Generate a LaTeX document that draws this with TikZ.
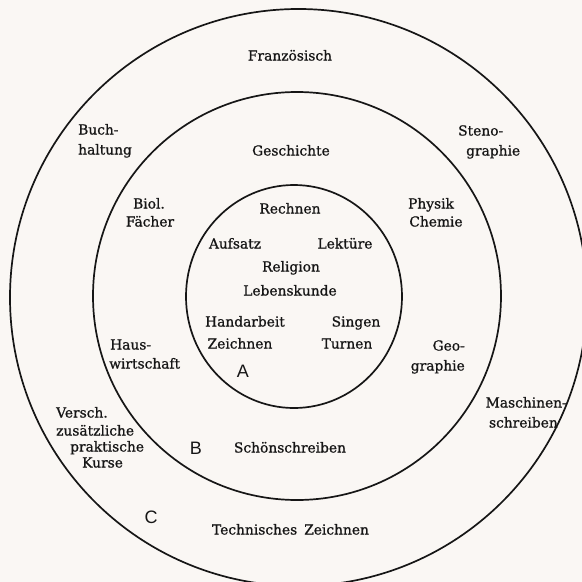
\documentclass[tikz,border=0pt]{standalone}
\usepackage{fontspec}
\usetikzlibrary{shapes.geometric}
\setmainfont{DejaVu Serif}
\newfontfamily\labelfont{DejaVu Serif}[FakeBold=0.9]
\newfontfamily\zonefont{Liberation Sans}
\definecolor{paper}{RGB}{250,247,244}
\definecolor{ink}{RGB}{22,22,22}
\begin{document}
\begin{tikzpicture}[x=1pt,y=-1pt,
  ring/.style={ellipse, draw=ink, line width=1.7pt, inner sep=0pt},
  lbl/.style={font=\labelfont\fontsize{13.8}{16}\selectfont, text=ink, inner sep=0pt, text height=10pt, text depth=3pt},
  zone/.style={font=\zonefont\fontsize{18}{20}\selectfont, text=ink, inner sep=0pt}]
\fill[paper] (0,0) rectangle (582,582);
\useasboundingbox (0,0) rectangle (582,582);
% rings
\node[ring, minimum width=577pt, minimum height=577pt] (outer) at (298.5,297.5) {};
\node[ring, minimum width=408pt, minimum height=408pt] (middle) at (297,296) {};
\node[ring, minimum width=216pt, minimum height=223pt] (inner) at (294,296.5) {};
% outer ring C
\node[lbl] (franz) at (290,57) {Französisch};
\node[lbl, anchor=west] (buch1) at (78,131) {Buch-};
\node[lbl, anchor=west] (buch2) at (78,151) {haltung};
\node[lbl, anchor=west] (steno1) at (458,132) {Steno-};
\node[lbl, anchor=west] (steno2) at (466,152) {graphie};
\node[lbl, anchor=east] (masch1) at (567,404) {Maschinen-};
\node[lbl, anchor=east] (masch2) at (558,424) {schreiben};
\node[lbl, anchor=west] (versch1) at (56,414) {Versch.};
\node[lbl, anchor=west] (versch2) at (56,432) {zusätzliche};
\node[lbl, anchor=west] (versch3) at (70,448) {praktische};
\node[lbl, anchor=west] (versch4) at (82,464) {Kurse};
\node[lbl] (techn) at (290.5,531) {Technisches\hskip 7pt Zeichnen};
\node[zone] (C) at (151,517) {C};
% middle ring B
\node[lbl] (gesch) at (291,152) {Geschichte};
\node[lbl] (biol1) at (149,205) {Biol.};
\node[lbl] (biol2) at (150,223) {Fächer};
\node[lbl] (phys1) at (431,205) {Physik};
\node[lbl] (phys2) at (436,223) {Chemie};
\node[lbl, anchor=west] (haus1) at (110,346) {Haus-};
\node[lbl, anchor=west] (haus2) at (109,365) {wirtschaft};
\node[lbl, anchor=east] (geo1) at (465,347) {Geo-};
\node[lbl, anchor=east] (geo2) at (465,367) {graphie};
\node[lbl] (schoen) at (290,449) {Schönschreiben};
\node[zone] (B) at (196,448) {B};
% inner circle A
\node[lbl] (rechnen) at (290,210) {Rechnen};
\node[lbl] (aufsatz) at (235,245) {Aufsatz};
\node[lbl] (lektuere) at (345,245) {Lektüre};
\node[lbl] (religion) at (291,268) {Religion};
\node[lbl] (lebens) at (290,292) {Lebenskunde};
\node[lbl] (hand) at (245,323) {Handarbeit};
\node[lbl] (singen) at (356,323) {Singen};
\node[lbl] (zeichnen) at (240,345) {Zeichnen};
\node[lbl] (turnen) at (347,345) {Turnen};
\node[zone] (A) at (243,371) {A};
\end{tikzpicture}
\end{document}
